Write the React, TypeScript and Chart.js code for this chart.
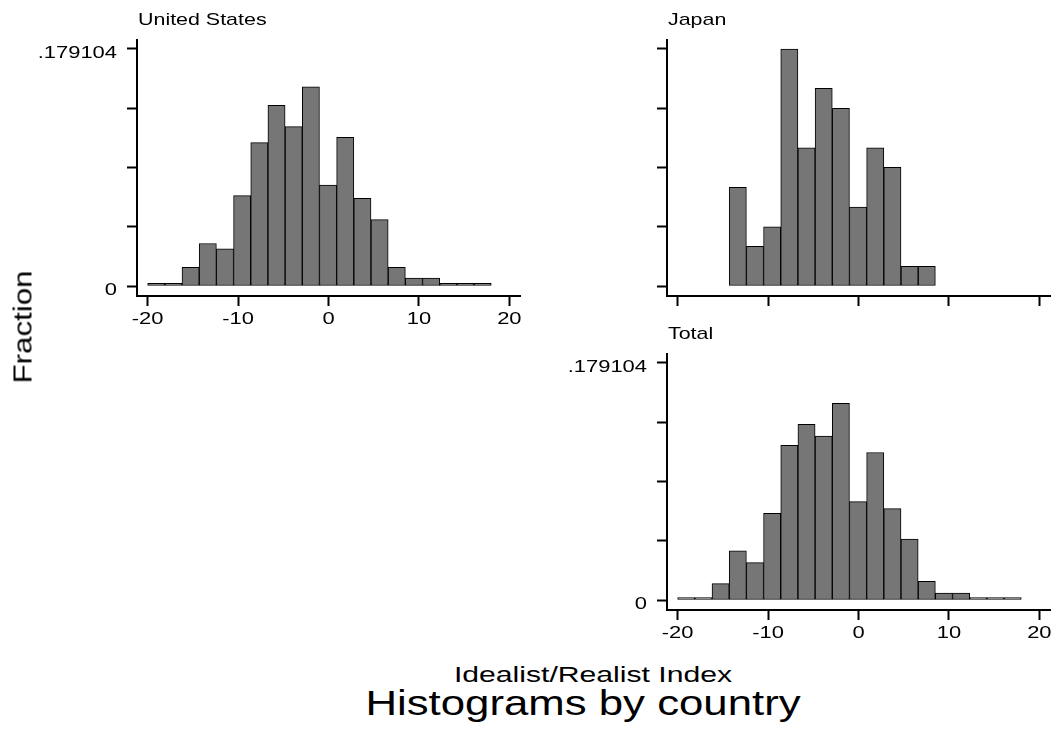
import React, { useEffect, useRef } from "react";
import { Chart, registerables } from "chart.js";

Chart.register(...registerables);

// Histogram bins (width 1.9, from -20 to 18): bin centres
const binCenters = [
  -19.05, -17.15, -15.25, -13.35, -11.45, -9.55, -7.65, -5.75, -3.85, -1.95,
  -0.05, 1.85, 3.75, 5.65, 7.55, 9.45, 11.35, 13.25, 15.15, 17.05,
];

// Fraction per bin
const usFraction = [
  0.002, 0.002, 0.0141, 0.0321, 0.0281, 0.0683, 0.1084, 0.1365, 0.1205, 0.1506,
  0.0763, 0.1124, 0.0663, 0.0502, 0.0141, 0.006, 0.006, 0.002, 0.002, 0.002,
];
const japanFraction: (number | null)[] = [
  null, null, null, 0.0746, 0.0299, 0.0448, 0.1791, 0.1045, 0.1493, 0.1343,
  0.0597, 0.1045, 0.0896, 0.0149, 0.0149, null, null, null, null, null,
];
const totalFraction = [
  0.0018, 0.0018, 0.0124, 0.0372, 0.0283, 0.0655, 0.1168, 0.1327, 0.1239, 0.1487,
  0.0743, 0.1115, 0.069, 0.046, 0.0142, 0.0053, 0.0053, 0.0018, 0.0018, 0.0018,
];

const xTicks = [-20, -10, 0, 10, 20];
const xTickLabels = ["-20", "-10", "0", "10", "20"];
const yTicks = [0, 0.044776, 0.089552, 0.134328, 0.179104];
const yTickLabels = ["0", "", "", "", ".179104"];

const FONT = '"Liberation Sans", Arial, Helvetica, sans-serif';

const stataText = {
  id: "stataText",
  afterDraw(chart: any, _args: any, opts: any) {
    const { ctx, chartArea, scales } = chart;
    const xs = scales.x;
    const ys = scales.y;
    const draw = (text: string, px: number, py: number, align: CanvasTextAlign, size: number, sx: number) => {
      ctx.save();
      ctx.translate(px, py);
      ctx.scale(sx, 1);
      ctx.font = `${size}px ${FONT}`;
      ctx.fillStyle = "#000";
      ctx.textAlign = align;
      ctx.textBaseline = "alphabetic";
      ctx.fillText(text, 0, 0);
      ctx.restore();
    };
    if (opts.title) draw(opts.title, chartArea.left + 1, chartArea.top - 15, "left", 17, 1.26);
    if (opts.showX) {
      xTicks.forEach((v, i) =>
        draw(xTickLabels[i], xs.getPixelForValue(v), chartArea.bottom + 27.5, "center", 17, 1.29)
      );
    }
    if (opts.showY) {
      yTicks.forEach((v, i) => {
        if (yTickLabels[i]) draw(yTickLabels[i], chartArea.left - 20, ys.getPixelForValue(v) + 9, "right", 17, 1.29);
      });
    }
  },
};

type PanelProps = {
  values: (number | null)[];
  title: string;
  showX: boolean;
  showY: boolean;
  left: number;
  top: number;
  width: number;
  height: number;
  padding: { left: number; top: number; right: number; bottom: number };
};

function Panel(p: PanelProps) {
  const ref = useRef<HTMLCanvasElement | null>(null);
  useEffect(() => {
    if (!ref.current) return;
    const data = binCenters
      .map((x, i) => ({ x, y: p.values[i] }))
      .filter((d) => d.y !== null);
    const axisCommon = {
      ticks: { display: false },
      grid: {
        offset: false,
        drawOnChartArea: false,
        drawTicks: true,
        tickLength: 10,
        tickWidth: 2,
        tickColor: "#000",
        color: "#000",
      },
      border: { display: true, color: "#000", width: 2 },
    };
    const chart = new Chart(ref.current, {
      type: "bar",
      data: {
        datasets: [
          {
            data: data as any,
            backgroundColor: "#767676",
            borderColor: "#000",
            borderWidth: 1,
            borderSkipped: false,
            barPercentage: 1,
            categoryPercentage: 1,
          } as any,
        ],
      },
      options: {
        responsive: false,
        animation: false,
        events: [],
        layout: { padding: p.padding },
        plugins: {
          legend: { display: false },
          tooltip: { enabled: false },
          stataText: { title: p.title, showX: p.showX, showY: p.showY },
        } as any,
        scales: {
          x: {
            type: "linear",
            min: -21.18,
            max: 21.18,
            offset: false,
            afterBuildTicks: (s: any) => {
              s.ticks = xTicks.map((v) => ({ value: v }));
            },
            ...axisCommon,
          } as any,
          y: {
            type: "linear",
            min: -0.007557,
            max: 0.185905,
            afterBuildTicks: (s: any) => {
              s.ticks = yTicks.map((v) => ({ value: v }));
            },
            ...axisCommon,
          } as any,
        },
      },
      plugins: [stataText as any],
    });
    return () => chart.destroy();
  }, []);
  return (
    <canvas
      ref={ref}
      width={p.width}
      height={p.height}
      style={{ position: "absolute", left: p.left, top: p.top, width: p.width, height: p.height }}
    />
  );
}

export default function App() {
  return (
    <div
      style={{
        position: "absolute",
        left: 0,
        top: 0,
        width: 1056,
        height: 729,
        background: "#fff",
        fontFamily: FONT,
        color: "#000",
        overflow: "hidden",
      }}
    >
      <Panel
        values={usFraction}
        title="United States"
        showX={true}
        showY={true}
        left={0}
        top={0}
        width={536}
        height={340}
        padding={{ left: 127, top: 40, right: 16, bottom: 34 }}
      />
      <Panel
        values={japanFraction}
        title="Japan"
        showX={false}
        showY={false}
        left={536}
        top={0}
        width={520}
        height={320}
        padding={{ left: 121, top: 40, right: 6, bottom: 14 }}
      />
      <Panel
        values={totalFraction}
        title="Total"
        showX={true}
        showY={true}
        left={536}
        top={320}
        width={520}
        height={340}
        padding={{ left: 121, top: 34, right: 6, bottom: 40 }}
      />
      <div
        style={{
          position: "absolute",
          left: 22.5,
          top: 326.7,
          transform: "translate(-50%,-50%) rotate(-90deg) scaleX(1.25)",
          fontSize: 25,
          lineHeight: 1,
          whiteSpace: "nowrap",
        }}
      >
        Fraction
      </div>
      <div
        style={{
          position: "absolute",
          left: 592.5,
          top: 663.7,
          transform: "translateX(-50%) scaleX(1.37)",
          fontSize: 22,
          lineHeight: 1,
          whiteSpace: "nowrap",
        }}
      >
        Idealist/Realist Index
      </div>
      <div
        style={{
          position: "absolute",
          left: 582.5,
          top: 685.4,
          transform: "translateX(-50%) scaleX(1.25)",
          fontSize: 35,
          lineHeight: 1,
          whiteSpace: "nowrap",
        }}
      >
        Histograms by country
      </div>
    </div>
  );
}
